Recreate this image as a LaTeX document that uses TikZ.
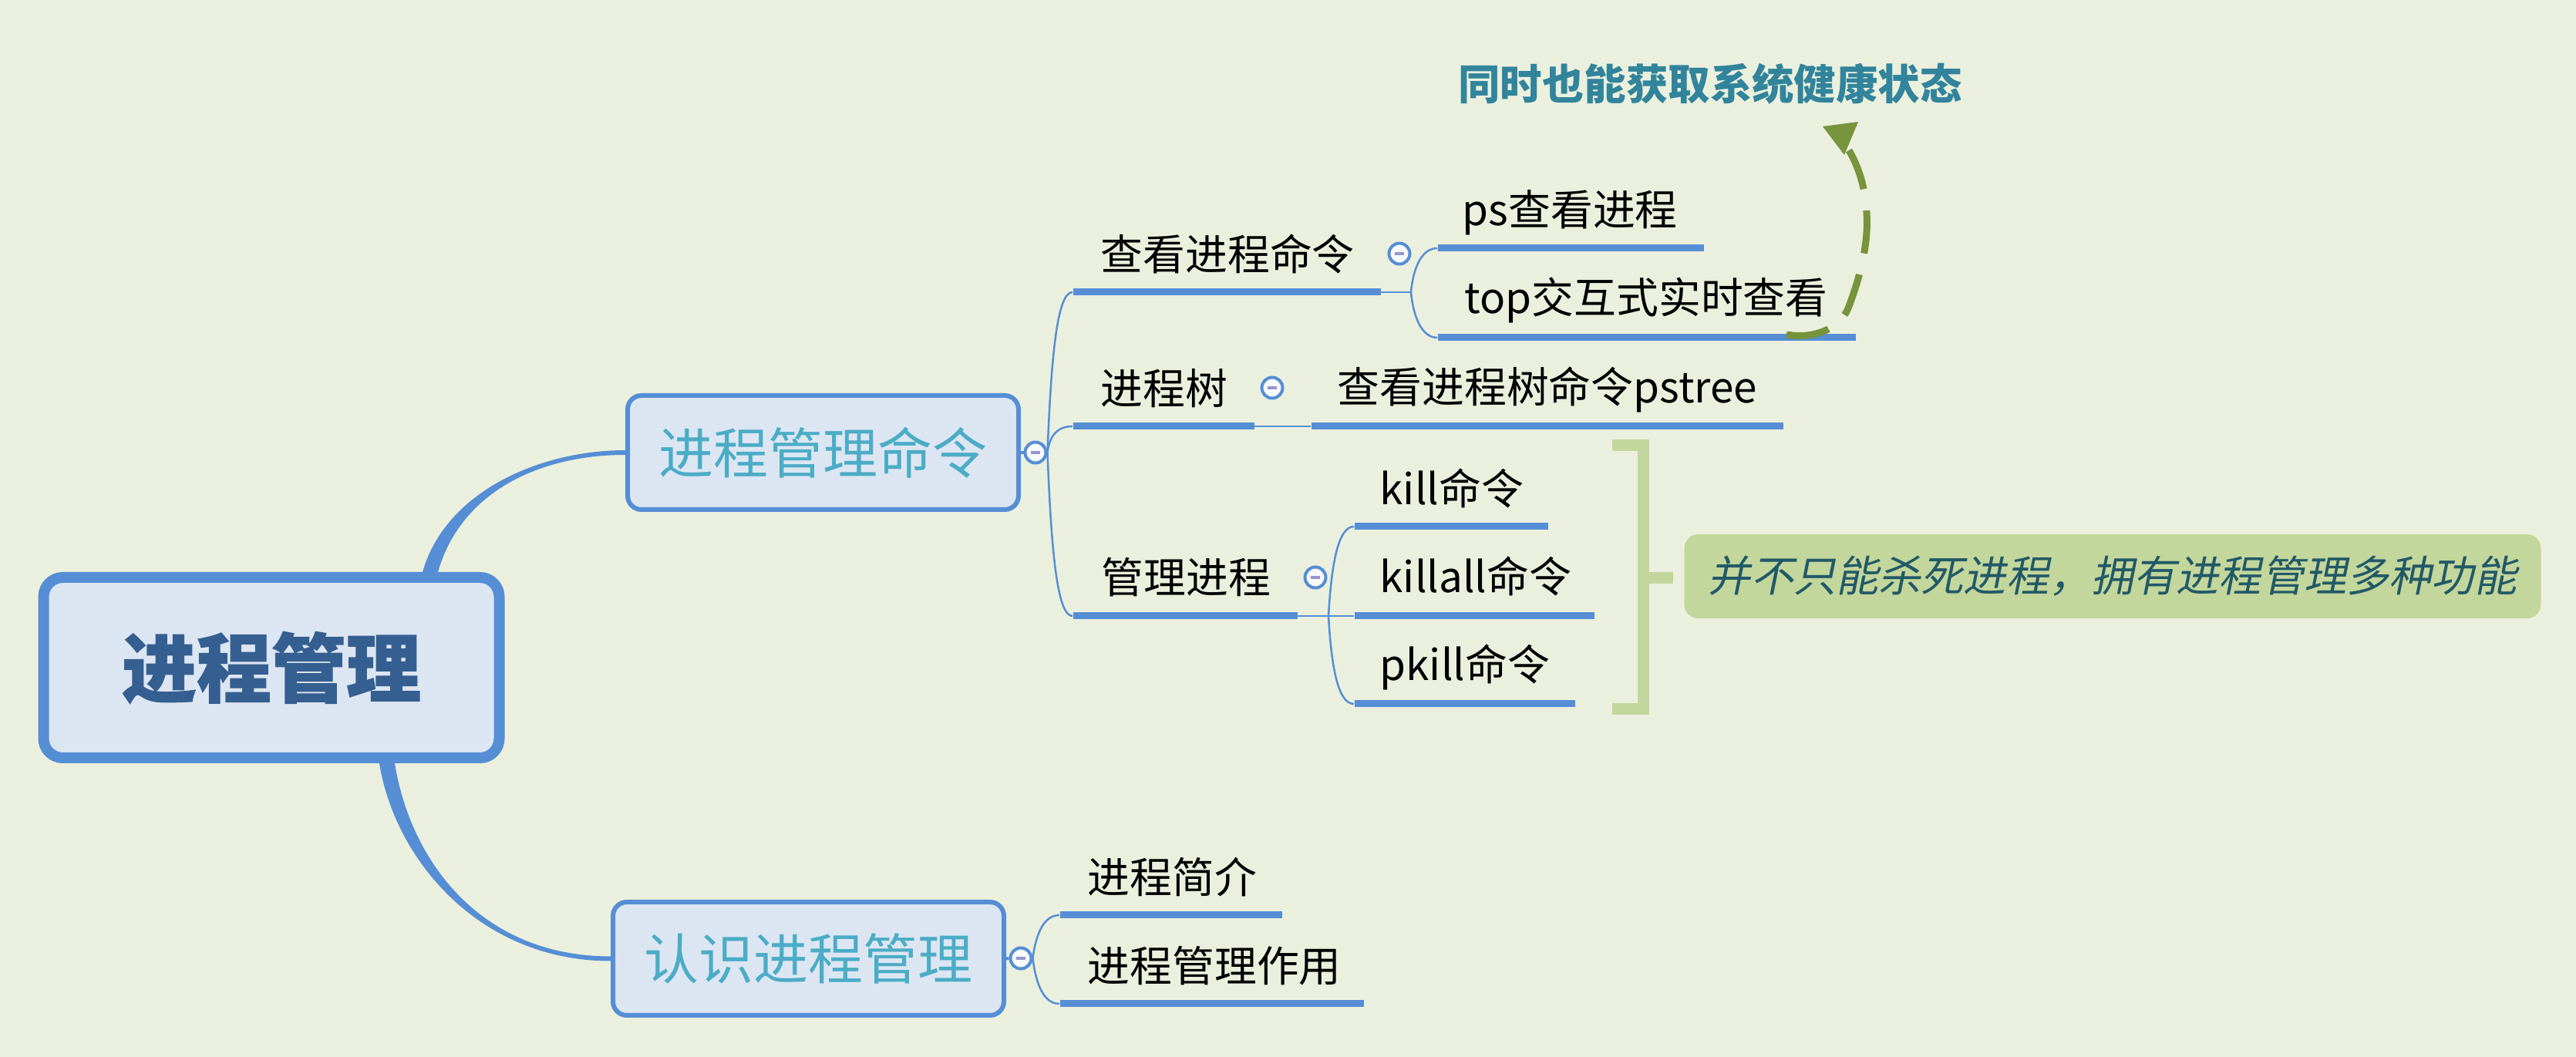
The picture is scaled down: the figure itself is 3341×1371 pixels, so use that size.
\documentclass[tikz,border=0pt]{standalone}
\usepackage{fontspec}
\setmainfont{Noto Sans CJK SC}
\newfontfamily\cjkslant{Noto Sans CJK SC}[FakeSlant=0.2]
\newfontfamily\cjkheavy{Noto Sans CJK SC}[BoldFeatures={FakeBold=1.2}]
\usetikzlibrary{calc}
\definecolor{bg}{RGB}{235,240,222}
\definecolor{bl}{RGB}{85,142,213}
\definecolor{boxfill}{RGB}{220,230,242}
\definecolor{roottext}{RGB}{54,95,145}
\definecolor{lonetext}{RGB}{75,172,198}
\definecolor{callc}{RGB}{49,132,155}
\definecolor{arrc}{RGB}{119,147,60}
\definecolor{sumfill}{RGB}{195,214,155}
\definecolor{sumtext}{RGB}{33,89,103}
\definecolor{minusc}{RGB}{150,150,205}
\definecolor{circfill}{RGB}{248,249,252}
\begin{document}
\begin{tikzpicture}[x=0.1mm,y=-0.1mm,
  rootbox/.style={draw=bl, line width=1.4mm, fill=boxfill, rounded corners=2.5mm,
    minimum width=59.1mm, minimum height=23.4mm, inner sep=0pt, text=roottext,
    font=\cjkheavy\bfseries\fontsize{27.6pt}{30pt}\selectfont},
  lonebox/.style={draw=bl, line width=0.6mm, fill=boxfill, rounded corners=1.8mm,
    minimum width=50.7mm, minimum height=14.8mm, inner sep=0pt, text=lonetext,
    font=\fontsize{20.2pt}{24pt}\selectfont},
  collapse/.style={circle, draw=bl, line width=0.4mm, fill=circfill, minimum size=2.7mm, inner sep=0pt,
    path picture={\draw[minusc, line width=0.35mm] ([xshift=-0.6mm]path picture bounding box.center) -- ([xshift=0.6mm]path picture bounding box.center);}},
  uline/.style={rectangle, fill=bl, minimum height=0.9mm, inner sep=0pt, anchor=west},
  topic/.style={anchor=west, inner sep=0pt, text height=12.9pt, text depth=1.1pt,
    font=\fontsize{15.6pt}{18pt}\selectfont},
  thinline/.style={draw=bl, line width=0.25mm},
]
\fill[bg] (0,0) rectangle (3341,1371);
\useasboundingbox (0,0) rectangle (3341,1371);

% main nodes
\node[rootbox] (root) at (352,866) {进程管理};
\node[lonebox] (cmd) at (1067.5,587) {进程管理命令};
\node[lonebox, minimum height=14.7mm] (know) at (1048.5,1243.5) {认识进程管理};

% collapse buttons
\node[collapse] (c0) at (1343,587) {};
\node[collapse] (cck) at (1815,329) {};
\node[collapse] (ctree) at (1650,503) {};
\node[collapse] (cmgmt) at (1706,749) {};
\node[collapse] (cknow) at (1324,1243) {};

% underlines
\node[uline, minimum width=39.9mm] (uck) at (1391,379) {};
\node[uline, minimum width=34.5mm] (ups) at (1864,322) {};
\node[uline, minimum width=54.2mm] (utop) at (1864,438) {};
\node[uline, minimum width=23.5mm] (utree) at (1391,553) {};
\node[uline, minimum width=61.2mm] (upstree) at (1700,553) {};
\node[uline, minimum width=29.1mm] (umgmt) at (1391,799) {};
\node[uline, minimum width=25.1mm] (ukill) at (1756,683) {};
\node[uline, minimum width=31.1mm] (ukillall) at (1756,799) {};
\node[uline, minimum width=28.6mm] (upkill) at (1756,913) {};
\node[uline, minimum width=28.8mm] (uintro) at (1374,1187) {};
\node[uline, minimum width=39.4mm] (urole) at (1374,1302) {};

% topic texts
\node[topic] (tck) at (1427,330) {查看进程命令};
\node[topic] (tps) at (1896,272) {ps查看进程};
\node[topic] (ttop) at (1899,386) {top交互式实时查看};
\node[topic] (ttree) at (1427,504) {进程树};
\node[topic] (tpstree) at (1734,502) {查看进程树命令pstree};
\node[topic] (tmgmt) at (1428,749) {管理进程};
\node[topic] (tkill) at (1789,634) {kill命令};
\node[topic] (tkillall) at (1789,748) {killall命令};
\node[topic] (tpkill) at (1789,862) {pkill命令};
\node[topic] (tintro) at (1410,1138) {进程简介};
\node[topic] (trole) at (1410,1253) {进程管理作用};

% callout and summary
\node[font=\bfseries\fontsize{15.5pt}{18pt}\selectfont, text=callc, inner sep=0pt] (call) at (2218,109) {同时也能获取系统健康状态};
\node[fill=sumfill, rounded corners=1.8mm, minimum width=111.1mm, minimum height=10.9mm, inner sep=0pt,
  text=sumtext, font=\cjkslant\fontsize{15.7pt}{18pt}\selectfont] (sum) at (2740,747.5) {并不只能杀死进程，拥有进程管理多种功能};

% thick tapered branches
\coordinate (rootUp) at ($(root.north)+(206,0)$);
\coordinate (rootDown) at ($(root.south)+(150,0)$);
\fill[bl] ($(rootUp)+(-10,0)$) .. controls +(30,-105) and +(-110,0) .. ($(cmd.west)+(0,-3)$)
  -- ($(cmd.west)+(0,3)$) .. controls +(-110,0) and +(30,-105) .. ($(rootUp)+(10,0)$) -- cycle;
\fill[bl] ($(rootDown)+(-10,0)$) .. controls +(20,125) and +(-170,0) .. ($(know.west)+(0,3)$)
  -- ($(know.west)+(0,-3)$) .. controls +(-170,0) and +(20,125) .. ($(rootDown)+(10,0)$) -- cycle;

\draw[bl, line width=0.4mm] (cmd.east) -- (c0.west);
\draw[bl, line width=0.4mm] (know.east) -- (cknow.west);

% thin connectors
\coordinate (jck) at (1830,379);
\coordinate (jmg) at (1723,799);
\draw[thinline] (c0.east) .. controls +(5,-125) and +(-20,0) .. (uck.west);
\draw[thinline] (c0.east) .. controls +(3,-22) and +(-20,0) .. (utree.west);
\draw[thinline] (c0.east) .. controls +(5,127) and +(-20,0) .. (umgmt.west);
\draw[thinline] (uck.east) -- (jck);
\draw[thinline] (jck) .. controls +(3,-32) and +(-20,0) .. (ups.west);
\draw[thinline] (jck) .. controls +(3,32) and +(-20,0) .. (utop.west);
\draw[thinline] (utree.east) -- (upstree.west);
\draw[thinline] (umgmt.east) -- (jmg);
\draw[thinline] (jmg) -- (ukillall.west);
\draw[thinline] (jmg) .. controls +(4,-70) and +(-20,0) .. (ukill.west);
\draw[thinline] (jmg) .. controls +(4,70) and +(-20,0) .. (upkill.west);
\draw[thinline] (cknow.east) .. controls +(4,-32) and +(-20,0) .. (uintro.west);
\draw[thinline] (cknow.east) .. controls +(4,34) and +(-20,0) .. (urole.west);

% summary bracket
\coordinate (brT) at (2091,578);
\coordinate (brB) at (2091,920);
\coordinate (brM) at (2131,750);
\draw[sumfill, line width=1.5mm] (brT) -- (2131,578) -- (2131,920) -- (brB);
\draw[sumfill, line width=1.5mm] (brM) -- (2170,750);

% dashed relationship arrow
\coordinate (arrS) at (2317,434);
\coordinate (arrE) at (2398,195);
\draw[arrc, line width=0.9mm, dash pattern=on 15.9pt off 8pt] (arrS) .. controls (2350,440) and (2385,428) .. (2397,400)
  .. controls (2410,366) and (2424,320) .. (2421,276) .. controls (2420,245) and (2410,215) .. (arrE);
\fill[arrc] (2364,164) -- (2410,158) -- (2392,201) -- cycle;
\end{tikzpicture}
\end{document}
